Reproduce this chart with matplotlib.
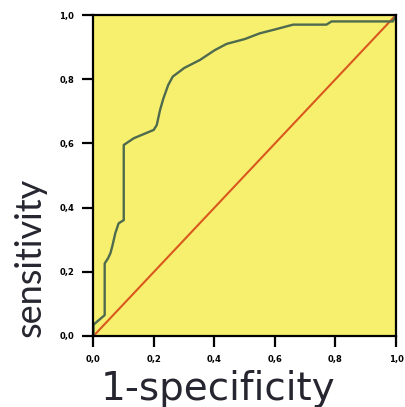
import numpy as np
import matplotlib.pyplot as plt

# ROC curve
fpr = [0.0, 0.0, 0.012, 0.037, 0.037, 0.048, 0.056, 0.063, 0.072, 0.083, 0.1, 0.1,
       0.133, 0.171, 0.199, 0.209, 0.22, 0.231, 0.247, 0.262, 0.30, 0.352, 0.40,
       0.44, 0.50, 0.55, 0.60, 0.66, 0.77, 0.787, 0.99, 1.0]
tpr = [0.0, 0.035, 0.045, 0.065, 0.226, 0.242, 0.258, 0.283, 0.32, 0.351, 0.361, 0.595,
       0.616, 0.631, 0.642, 0.657, 0.704, 0.74, 0.782, 0.808, 0.835, 0.86, 0.89,
       0.91, 0.925, 0.943, 0.955, 0.97, 0.97, 0.98, 0.98, 1.0]
ref = [0.0, 1.0]
ticks = [0.0, 0.2, 0.4, 0.6, 0.8, 1.0]
tick_labels = ["0,0", "0,2", "0,4", "0,6", "0,8", "1,0"]

fig = plt.figure(figsize=(4.06, 4.07), dpi=100)
ax = fig.add_axes([93.5 / 406, 71 / 407, 302.5 / 406, 321 / 407])
ax.set_facecolor("#f7ef6e")

ax.plot(ref, ref, color="#d9581e", lw=1.5)
ax.plot(fpr, tpr, color="#4e6b4e", lw=1.7)

ax.set_xlim(0, 1)
ax.set_ylim(0, 1)
ax.set_xticks(ticks)
ax.set_yticks(ticks)
ax.set_xticklabels(tick_labels, fontsize=6, fontweight="bold")
ax.set_yticklabels(tick_labels, fontsize=6, fontweight="bold")
ax.tick_params(axis="both", length=8, width=1.6, direction="out")
ax.tick_params(axis="x", pad=6)
ax.tick_params(axis="y", pad=6)
for s in ax.spines.values():
    s.set_linewidth(1.6)
    s.set_color("black")

fig.text(30 / 406, 1 - 257 / 407, "sensitivity", rotation=90, ha="center", va="center",
         fontsize=26, family="Lato", color="#262630")
fig.text(218 / 406, 1 - 400 / 407, "1-specificity", ha="center", va="baseline",
         fontsize=28, family="DejaVu Sans", color="#262630")

fig.savefig("out.png", dpi=100)
